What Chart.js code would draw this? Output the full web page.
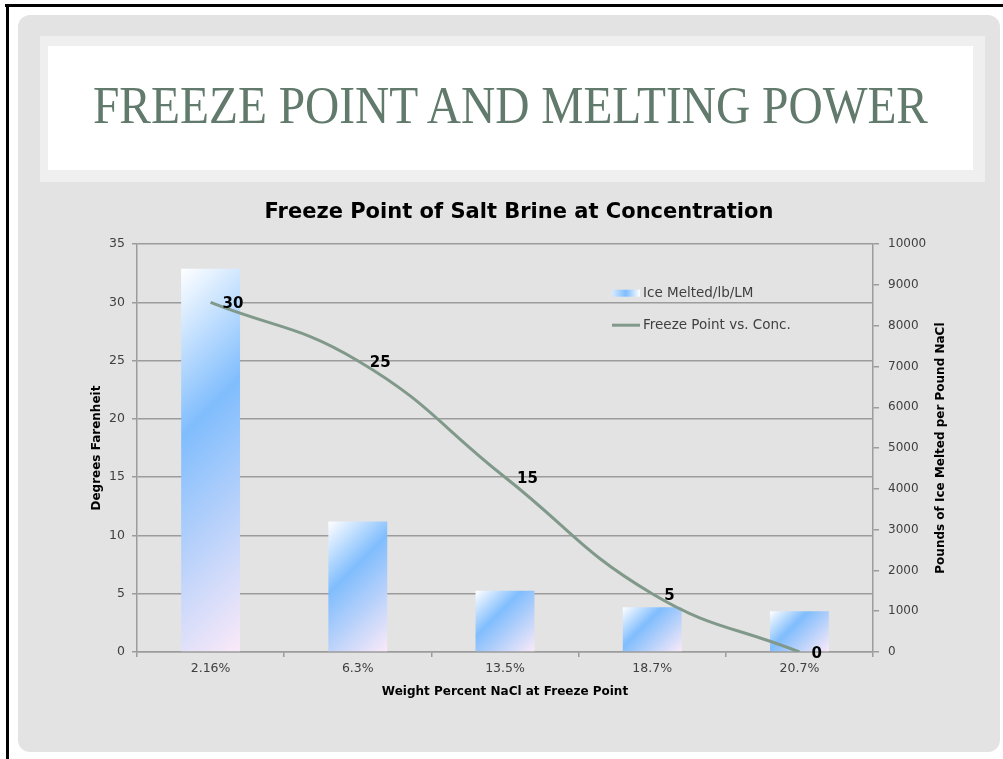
<!DOCTYPE html>
<html><head><meta charset="utf-8">
<script src="https://cdn.jsdelivr.net/npm/chart.js@4/dist/chart.umd.min.js"></script>
<style>
html,body{margin:0;padding:0;background:#fff;}
#stage{position:relative;width:1003px;height:759px;overflow:hidden;background:#fff;}
#topline{position:absolute;left:5px;top:4px;width:1000px;height:3px;background:#000;}
#leftline{position:absolute;left:6px;top:4px;width:3px;height:760px;background:#000;}
#panel{position:absolute;left:18px;top:15px;width:982px;height:737px;background:#e3e3e3;border-radius:12px;}
#tband{position:absolute;left:40px;top:36px;width:945px;height:146px;background:#efefef;}
#tbox{position:absolute;left:48px;top:46px;width:925px;height:124px;background:#fff;}
#title{position:absolute;left:93px;top:79px;font-family:"Liberation Serif";font-size:53px;line-height:53px;color:#617a6c;white-space:nowrap;transform-origin:0 0;}
#c{position:absolute;left:0;top:0;}
</style></head>
<body>
<div id="stage">
  <div id="topline"></div><div id="leftline"></div>
  <div id="panel"></div><div id="tband"></div><div id="tbox"></div>
  <div id="title"><span id="tspan">FREEZE POINT AND MELTING POWER</span></div>
  <canvas id="c" width="1003" height="759"></canvas>
</div>
<script>
const categories = ['2.16%', '6.3%', '13.5%', '18.7%', '20.7%'];
const freezePoint = [30, 25, 15, 5, 0];
const iceMelted = [9400, 3200, 1500, 1100, 1000];
const leftAxis = {min: 0, max: 35, step: 5};
const rightAxis = {min: 0, max: 10000, step: 1000};
const chartTitle = 'Freeze Point of Salt Brine at Concentration';
const xTitle = 'Weight Percent NaCl at Freeze Point';
const yTitle = 'Degrees Farenheit';
const y2Title = 'Pounds of Ice Melted per Pound NaCl';
const seriesNames = ['Freeze Point vs. Conc.', 'Ice Melted/lb/LM'];

(function(){
  const sp = document.getElementById('tspan');
  const w = sp.getBoundingClientRect().width;
  document.getElementById('title').style.transform = 'scaleX(' + (835 / w) + ')';
})();

const FONT = 'DejaVu Sans';
const BAR_PCT = 0.4;
const LINE_COLOR = '#80998b';
const GRID = '#9c9c9c';

function barGradient(ctx2d, x, y, w, h) {
  const d = (w + h) / 2;
  const g = ctx2d.createLinearGradient(x, y, x + d, y + d);
  g.addColorStop(0, '#ffffff');
  g.addColorStop(0.38, '#80bdfd');
  g.addColorStop(1, '#fbeaf8');
  return g;
}

function barBg(c) {
  const chart = c.chart;
  if (!chart.chartArea || c.type !== 'data') return '#9cc8f5';
  const xs = chart.scales.x, ys = chart.scales.y2;
  const cx = xs.getPixelForValue(c.dataIndex);
  const w = (xs.width / categories.length) * BAR_PCT;
  const top = ys.getPixelForValue(c.raw);
  const base = ys.getPixelForValue(0);
  return barGradient(chart.ctx, cx - w / 2, top, w, base - top);
}

const labelPlugin = {
  id: 'pointLabels',
  afterDatasetsDraw(chart) {
    const ctx = chart.ctx;
    const meta = chart.getDatasetMeta(0);
    ctx.save();
    ctx.font = 'bold 15px "' + FONT + '"';
    ctx.fillStyle = '#000';
    ctx.textAlign = 'left';
    ctx.textBaseline = 'middle';
    meta.data.forEach((pt, i) => {
      ctx.fillText(String(chart.data.datasets[0].data[i]), pt.x + 12, pt.y + 2);
    });
    ctx.restore();
  }
};

const legendPlugin = {
  id: 'customLegend',
  afterDraw(chart) {
    const ctx = chart.ctx;
    const a = chart.chartArea;
    const lx = a.left + 475, ly1 = a.top + 49, ly2 = a.top + 81;
    ctx.save();
    const g = ctx.createLinearGradient(lx, 0, lx + 28, 0);
    g.addColorStop(0, '#d6eaff');
    g.addColorStop(0.5, '#7dbdff');
    g.addColorStop(1, '#ffffff');
    ctx.fillStyle = g;
    ctx.fillRect(lx, ly1 - 3.5, 28, 7);
    ctx.strokeStyle = LINE_COLOR;
    ctx.lineWidth = 3;
    ctx.beginPath(); ctx.moveTo(lx, ly2); ctx.lineTo(lx + 28, ly2); ctx.stroke();
    ctx.font = '13.5px "' + FONT + '"';
    ctx.fillStyle = '#404040';
    ctx.textAlign = 'left';
    ctx.textBaseline = 'middle';
    ctx.fillText(chart.data.datasets[1].label, lx + 31, ly1);
    ctx.fillText(chart.data.datasets[0].label, lx + 31, ly2);
    ctx.save();
    ctx.translate(a.right + 68, (a.top + a.bottom) / 2);
    ctx.rotate(-Math.PI / 2);
    ctx.font = 'bold 12px "' + FONT + '"';
    ctx.fillStyle = '#000';
    ctx.textAlign = 'center';
    ctx.fillText(y2Title, 0, 0);
    ctx.restore();
    ctx.restore();
  }
};

const axisTitleFont = {family: FONT, size: 12, weight: 'bold'};
const tickFont = {family: FONT, size: 12.5};

new Chart(document.getElementById('c'), {
  data: {
    labels: categories,
    datasets: [
      {
        type: 'line', label: seriesNames[0], data: freezePoint, yAxisID: 'y', order: 0,
        borderColor: LINE_COLOR, borderWidth: 3, pointRadius: 0, tension: 0.45, fill: false
      },
      {
        type: 'bar', label: seriesNames[1], data: iceMelted, yAxisID: 'y2', order: 1,
        backgroundColor: barBg, borderWidth: 0,
        categoryPercentage: 1, barPercentage: BAR_PCT
      }
    ]
  },
  options: {
    responsive: false, animation: false, devicePixelRatio: 1,
    layout: {padding: {left: 86, right: 51, top: 200, bottom: 56}},
    plugins: {
      legend: {display: false},
      tooltip: {enabled: false},
      title: {
        display: true, text: chartTitle, color: '#000',
        font: {family: FONT, size: 21, weight: 'bold'},
        padding: {top: 0, bottom: 19}
      }
    },
    scales: {
      x: {
        offset: true,
        grid: {display: true, drawOnChartArea: false, offset: true, tickLength: 5, color: GRID, lineWidth: 1.5},
        border: {color: GRID, width: 1.5},
        ticks: {font: {family: FONT, size: 12.5}, color: '#404040', padding: 4, maxRotation: 0},
        title: {display: true, text: xTitle, font: axisTitleFont, color: '#000', padding: {top: 4, bottom: 4}},
        afterFit(s) { s.height = 51; }
      },
      y: {
        position: 'left', min: leftAxis.min, max: leftAxis.max,
        ticks: {stepSize: leftAxis.step, font: tickFont, color: '#404040', padding: 7},
        grid: {color: GRID, lineWidth: 1.5, tickLength: 5},
        border: {color: GRID, width: 1.5},
        title: {display: true, text: yTitle, font: axisTitleFont, color: '#000', padding: {top: 4, bottom: 4}},
        afterFit(s) { s.width = 51; }
      },
      y2: {
        position: 'right', min: rightAxis.min, max: rightAxis.max,
        ticks: {stepSize: rightAxis.step, font: {family: FONT, size: 12}, color: '#404040', padding: 9,
                callback: (v) => String(v)},
        grid: {drawOnChartArea: false, tickLength: 6, color: GRID, lineWidth: 1.5},
        border: {color: GRID, width: 1.5},
        title: {display: false},
        afterFit(s) { s.width = 79; }
      }
    }
  },
  plugins: [labelPlugin, legendPlugin]
});
</script>
</body></html>
